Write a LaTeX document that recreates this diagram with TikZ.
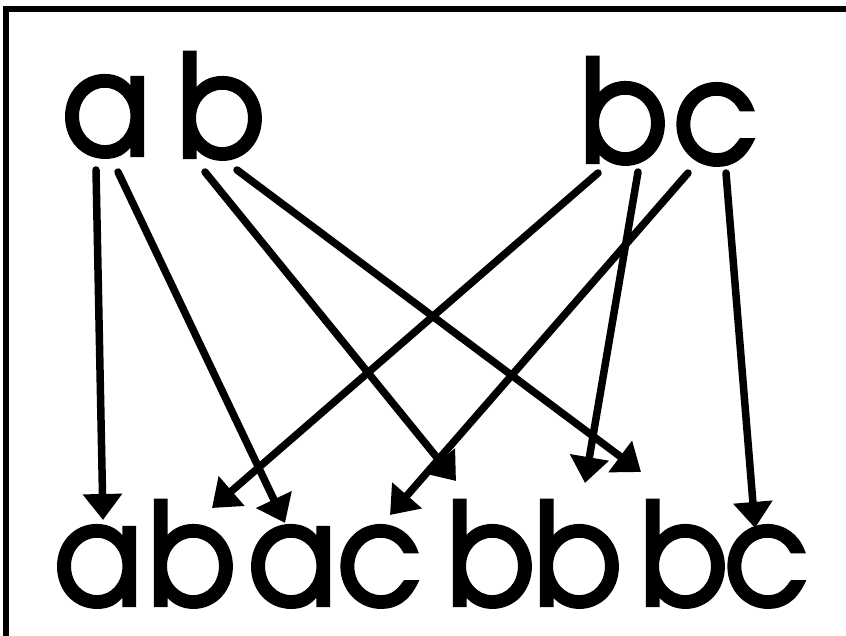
\documentclass[tikz,border=0pt]{standalone}
\usepackage{fontspec}
\setmainfont{TeX Gyre Adventor}[FakeStretch=0.92,FakeBold=3]
\usetikzlibrary{arrows.meta,calc}
\begin{document}
\begin{tikzpicture}[x=1pt,y=-1pt,
  letter/.style={inner sep=0pt, anchor=base, font=\fontsize{141}{141}\selectfont},
  arr/.style={line width=7.5pt, line cap=round, -{Triangle[length=26pt,width=38pt]}},
  frame/.style={line width=6pt}]
\useasboundingbox (0,0) rectangle (846,636);
\draw[frame] (5.5,640) -- (5.5,9) -- (850,9);
% top letters
\node[letter] (ta)  at (106,155) {a};
\node[letter] (tb)  at (221,157) {b};
\node[letter] (tb2) at (624,162) {b};
\node[letter] (tc)  at (715,163) {c};
% bottom words (letters)
\node[letter] (aba) at (98,605)  {a};
\node[letter] (abb) at (192,605) {b};
\node[letter] (aca) at (292,605) {a};
\node[letter] (acc) at (379,605) {c};
\node[letter] (bbb) at (491,605) {b};
\node[letter] (bbc) at (578,605) {b};
\node[letter] (bcb) at (684,605) {b};
\node[letter] (bcc) at (766,605) {c};
% arrows
\draw[arr] ($(ta.base)+(-10,15)$)  -- ($(aba.base)+(5,-85)$);
\draw[arr] ($(ta.base)+(12,17)$)   -- ($(aca.base)+(-7,-82)$);
\draw[arr] ($(tb.base)+(-16,15)$)  -- ($(bbb.base)+(-35,-124)$);
\draw[arr] ($(tb.base)+(16,13)$)   -- ($(bcb.base)+(-43,-133)$);
\draw[arr] ($(tb2.base)+(-26,11)$) -- ($(abb.base)+(20,-97)$);
\draw[arr] ($(tb2.base)+(14,10)$)  -- ($(bbc.base)+(7,-122)$);
\draw[arr] ($(tc.base)+(-27,10)$)  -- ($(acc.base)+(11,-90)$);
\draw[arr] ($(tc.base)+(11,10)$)   -- ($(bcc.base)+(-11,-77)$);
\end{tikzpicture}
\end{document}
